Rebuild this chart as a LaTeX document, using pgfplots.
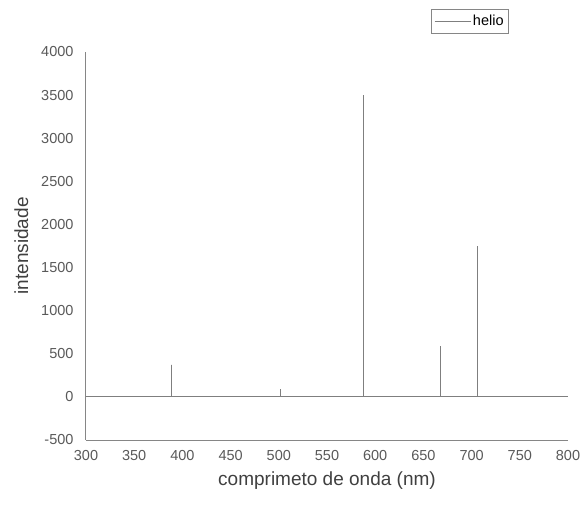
\documentclass[border=0pt]{standalone}
\usepackage{pgfplots}
\pgfplotsset{compat=1.18}
\usepackage{fontspec}
\setmainfont{Liberation Sans}
\definecolor{axcol}{HTML}{868686}
\definecolor{tickcol}{HTML}{595959}
\definecolor{labcol}{HTML}{404040}
\definecolor{datcol}{HTML}{7F7F7F}
\begin{document}
\begin{tikzpicture}
\path[use as bounding box] (-86bp,-70bp) rectangle (499bp,440bp);
\begin{axis}[
  at={(0,0)}, anchor=south west,
  scale only axis,
  width=482bp, height=388bp,
  xmin=300, xmax=800, ymin=-500, ymax=4000,
  xtick={300,350,...,800}, ytick={-500,0,...,4000},
  axis x line*=bottom, axis y line*=left,
  axis line style={axcol, line width=1bp, -},
  major tick length=0pt,
  tick label style={font=\fontsize{14.5bp}{16bp}\selectfont, text=tickcol},
  /pgf/number format/assume math mode=true,
  /pgf/number format/1000 sep={},
  yticklabel style={xshift=-9bp},
  xticklabel style={yshift=-7bp},
  xlabel={comprimeto de onda (nm)},
  ylabel={intensidade},
  label style={font=\fontsize{19bp}{21bp}\selectfont, text=labcol},
  xlabel style={yshift=-4bp},
  ylabel style={yshift=6bp},
  legend style={at={(axis description cs:0.8776,1.1108)}, anchor=north east,
    draw=axcol, line width=0.8bp, font=\fontsize{14.5bp}{16bp}\selectfont,
    text=black, inner xsep=3bp, inner ysep=4bp},
  legend cell align=left,
  legend image code/.code={\draw[#1, line width=0.7bp] (-2bp,0bp) -- (34bp,0bp);},
  clip=false,
]
\addplot[datcol, line width=1.1bp] coordinates {
(300,0) (388.9,0) (388.9,370) (388.9,0)
(501.6,0) (501.6,90) (501.6,0)
(587.5,0) (587.5,3500) (587.5,0)
(667.8,0) (667.8,590) (667.8,0)
(706.5,0) (706.5,1750) (706.5,0)
(800,0)
};
\addlegendentry{helio}
\end{axis}
\end{tikzpicture}
\end{document}
